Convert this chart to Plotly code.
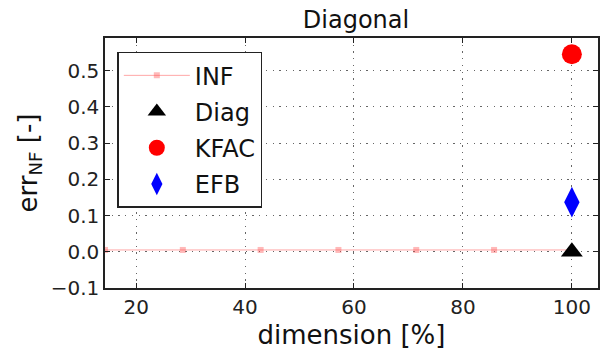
import plotly.graph_objects as go

# ---- data ----
dims_inf = [14.2857, 28.5714, 42.8571, 57.1429, 71.4286, 85.7143, 100.0]
err_inf = [0.005, 0.005, 0.005, 0.005, 0.005, 0.005, 0.005]
dims_diag = [100.0]
err_diag = [0.0]
dims_kfac = [100.0]
err_kfac = [0.545]
dims_efb = [100.0]
err_efb = [0.137]

x_ticks = [20, 40, 60, 80, 100]
y_ticks = [-0.1, 0.0, 0.1, 0.2, 0.3, 0.4, 0.5]

FONT = "DejaVu Sans"

fig = go.Figure()
fig.add_trace(go.Scatter(
    x=dims_inf, y=err_inf, name="INF", mode="lines+markers",
    line=dict(color="rgba(255,0,0,0.35)", width=1),
    marker=dict(symbol="square", size=6, color="rgba(255,80,80,0.4)",
                line=dict(width=0)),
    legendgroup="a", cliponaxis=True,
))
fig.add_trace(go.Scatter(
    x=dims_diag, y=err_diag, name="Diag", mode="markers",
    marker=dict(symbol="triangle-up", size=19, color="black"),
    legendgroup="b",
))
fig.add_trace(go.Scatter(
    x=dims_kfac, y=err_kfac, name="KFAC", mode="markers",
    marker=dict(symbol="circle", size=20, color="red"),
    legendgroup="c",
))
fig.add_trace(go.Scatter(
    x=dims_efb, y=err_efb, name="EFB", mode="markers",
    marker=dict(symbol="diamond-tall", size=22, color="blue"),
    legendgroup="d",
))

axis_common = dict(
    showline=True, linecolor="#222", linewidth=1.5, mirror="ticks",
    ticks="inside", ticklen=5, tickwidth=1, tickcolor="#222",
    showgrid=True, gridcolor="#666", griddash="1.3px,5.4px", gridwidth=1,
    zeroline=False,
    tickfont=dict(family=FONT, size=20, color="#222"),
)

fig.update_layout(
    width=600, height=350,
    margin=dict(l=105, r=0, t=38, b=62),
    paper_bgcolor="white", plot_bgcolor="white",
    font=dict(family=FONT, color="#222"),
    title=dict(text="Diagonal", font=dict(family=FONT, size=24, color="#111"),
               x=356/600, xref="container", xanchor="center",
               y=1 - 20/350, yref="container", yanchor="middle"),
    xaxis=dict(range=[14.2857, 104.8], tickvals=x_ticks,
               title=dict(text="dimension [%]", font=dict(family=FONT, size=26, color="#111"),
                          standoff=11),
               **axis_common),
    yaxis=dict(range=[-0.1, 0.59], tickvals=y_ticks, tickformat=".1f",
               title=dict(text="err<sub>NF</sub> [-]", font=dict(family=FONT, size=26, color="#111"),
                          standoff=6),
               **axis_common),
    legend=dict(
        x=0.025, y=0.945, xanchor="left", yanchor="top",
        bgcolor="white", bordercolor="#222", borderwidth=1.5,
        font=dict(family=FONT, size=24, color="#111"),
        itemwidth=66, itemsizing="trace", tracegroupgap=2,
    ),
    showlegend=True,
)

fig.write_html("out.html")
